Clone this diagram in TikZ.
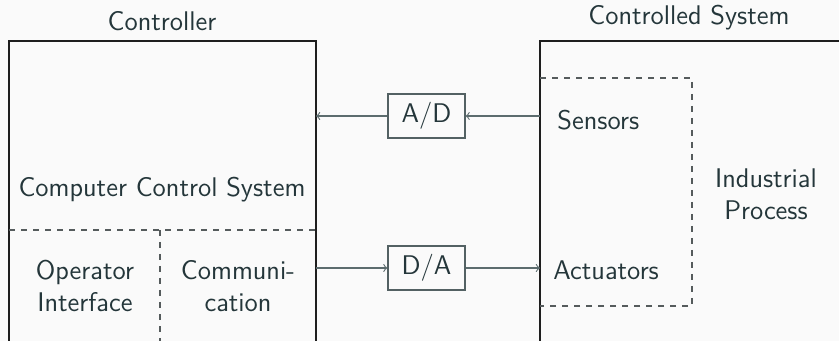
\documentclass[tikz,border=0pt]{standalone}
\usepackage{tikz}
\definecolor{txt}{HTML}{24363A}
\definecolor{frame}{HTML}{1E1E1E}
\definecolor{arr}{HTML}{5C6C6E}
\definecolor{dash}{HTML}{555B5C}
\definecolor{bg}{HTML}{FAFAFA}
\tikzset{
  lbl/.style={text=txt, font=\sffamily\fontsize{13.5}{16}\selectfont, inner sep=0pt, align=center},
  conv/.style={draw=arr!90!black, line width=0.55pt, minimum width=38.5pt, minimum height=22pt, inner sep=0pt, text=txt, font=\sffamily\fontsize{13.5}{16}\selectfont},
  frm/.style={draw=frame, line width=0.6pt},
  dsh/.style={draw=dash, line width=0.55pt, dash pattern=on 3pt off 3pt},
  flow/.style={draw=arr, line width=0.55pt, -to},
}
\begin{document}
\begin{tikzpicture}[x=0.5pt,y=-0.5pt]
\fill[bg] (0,0) rectangle (839,341);
\useasboundingbox (0,0) rectangle (839,341);
\clip (0,0) rectangle (839,341);
% boxes
\draw[frm] (9,360) -- (9,41) -- (316,41) -- (316,360);
\draw[frm] (540,360) -- (540,41) -- (860,41);
\coordinate (ctrlE1) at (316,116);
\coordinate (ctrlE2) at (316,268);
\coordinate (sysW1) at (540,116);
\coordinate (sysW2) at (540,268);
% dashed regions
\draw[dsh] (9,230) -- (316,230);
\draw[dsh] (160,230) -- (160,360);
\draw[dsh] (540,78) -- (692,78) -- (692,306) -- (540,306);
% titles
\node[lbl] (ctrl) at (162,21) {Controller};
\node[lbl] (sys) at (689,18) {Controlled System};
\node[lbl] (ccs) at (162,190) {Computer Control System};
\node[lbl] (op) at (85,286) {Operator\\Interface};
\node[lbl] (comm) at (238,286) {Communi-\\cation};
\node[lbl, anchor=west] (sens) at (557,120) {Sensors};
\node[lbl, anchor=west] (act) at (553,270) {Actuators};
\node[lbl] (ip) at (766,194) {Industrial\\Process};
% converters
\node[conv] (ad) at (426.5,116) {A/D};
\node[conv] (da) at (426.5,268) {D/A};
\draw[flow] (sysW1) -- (ad.east);
\draw[flow] (ad.west) -- (ctrlE1);
\draw[flow] (ctrlE2) -- (da.west);
\draw[flow] (da.east) -- (sysW2);
\end{tikzpicture}
\end{document}
